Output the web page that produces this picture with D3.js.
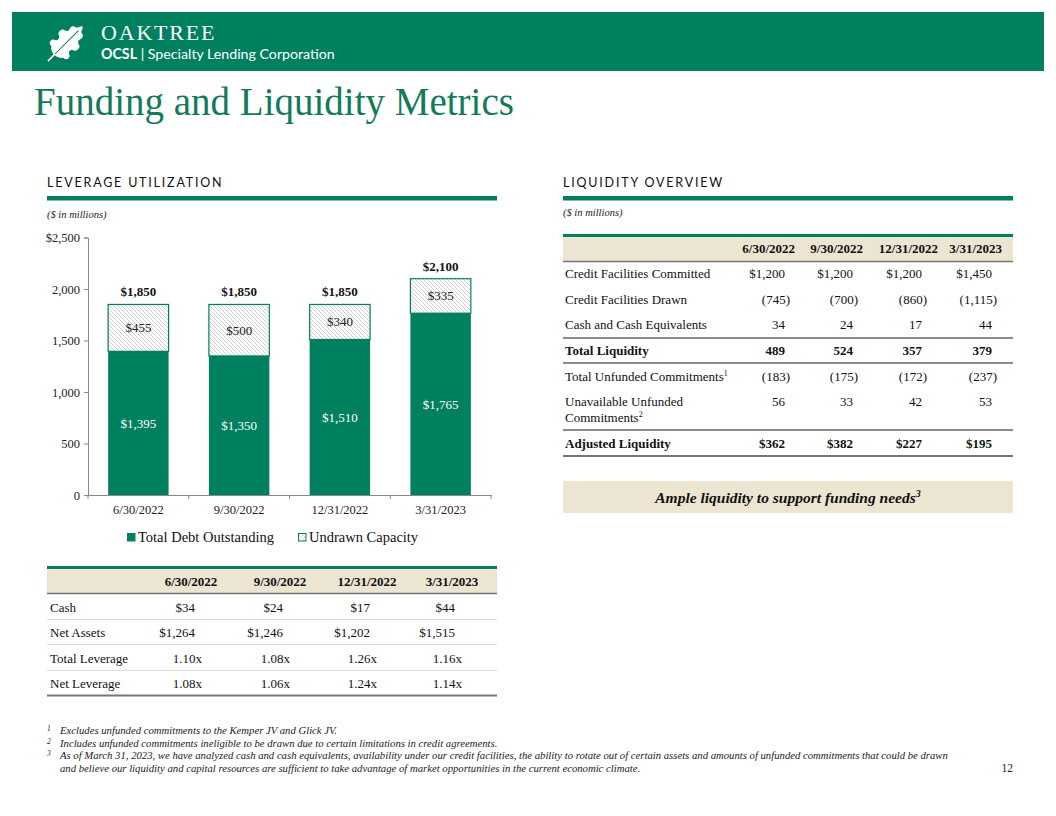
<!DOCTYPE html>
<html>
<head>
<meta charset="utf-8">
<script src="https://cdn.jsdelivr.net/npm/d3@7"></script>
<style>
  body { margin: 0; background: #fff; }
  svg text { font-family: 'Liberation Serif', 'Times New Roman', serif; }
  .sans { font-family: 'Lato', 'Open Sans', sans-serif !important; }
</style>
</head>
<body>
<div id="slide"></div>
<script>
const dates = ['6/30/2022', '9/30/2022', '12/31/2022', '3/31/2023'];
const debt = [1395, 1350, 1510, 1765];
const undrawn = [455, 500, 340, 335];
const yTicks = [0, 500, 1000, 1500, 2000, 2500];
const legendLabels = ['Total Debt Outstanding', 'Undrawn Capacity'];

const cashRow = ['$34', '$24', '$17', '$44'];
const netAssetsRow = ['$1,264', '$1,246', '$1,202', '$1,515'];
const totalLevRow = ['1.10x', '1.08x', '1.26x', '1.16x'];
const netLevRow = ['1.08x', '1.06x', '1.24x', '1.14x'];

const committed = [1200, 1200, 1200, 1450];
const drawn = [-745, -700, -860, -1115];
const cashEquiv = [34, 24, 17, 44];
const totalLiquidity = [489, 524, 357, 379];
const unfunded = [-183, -175, -172, -237];
const unavailable = [56, 33, 42, 53];
const adjusted = [362, 382, 227, 195];

const footnotes = [
  'Excludes unfunded commitments to the Kemper JV and Glick JV.',
  'Includes unfunded commitments ineligible to be drawn due to certain limitations in credit agreements.',
  'As of March 31, 2023, we have analyzed cash and cash equivalents, availability under our credit facilities, the ability to rotate out of certain assets and amounts of unfunded commitments that could be drawn',
  'and believe our liquidity and capital resources are sufficient to take advantage of market opportunities in the current economic climate.'
];

const green = '#00805e';
const beige = '#ece5d2';
const W = 1056, H = 816;

const svg = d3.select('#slide').append('svg').attr('width', W).attr('height', H);

const defs = svg.append('defs');
const pat = defs.append('pattern').attr('id', 'hatch')
  .attr('patternUnits', 'userSpaceOnUse').attr('width', 4).attr('height', 4);
pat.append('rect').attr('width', 4).attr('height', 4).attr('fill', '#fff');
pat.append('path').attr('d', 'M-1,-1 L5,5 M-1,3 L1,5 M3,-1 L5,1')
  .attr('stroke', '#c4c4c4').attr('stroke-width', 0.8);

// header band
svg.append('rect').attr('x', 12).attr('y', 12).attr('width', 1032).attr('height', 59).attr('fill', green);
const leaf = svg.append('g').attr('transform', 'translate(67,42) rotate(45)');
leaf.append('path')
  .attr('d', 'M0,18 Q-6,18 -8,14 Q-14,14 -12,8 Q-6,6 -9,2 Q-15,0 -12,-6 Q-7,-7 -7,-10 Q-10,-16 -3,-17 Q-1,-22 0,-22 Q1,-22 3,-17 Q10,-16 7,-10 Q7,-7 12,-6 Q15,0 9,2 Q6,6 12,8 Q14,14 8,14 Q6,18 0,18 Z')
  .attr('fill', '#fff');
leaf.append('path').attr('d', 'M0,14 L0,27').attr('stroke', '#fff').attr('stroke-width', 1.6);
leaf.append('path').attr('d', 'M0,17 L0,-16').attr('stroke', green).attr('stroke-width', 1);
svg.append('text').attr('x', 101).attr('y', 40).attr('fill', '#fff')
  .attr('font-size', 22).attr('letter-spacing', 1.8).text('OAKTREE');
const sub = svg.append('text').attr('x', 101).attr('y', 59).attr('fill', '#fff')
  .attr('class', 'sans').attr('font-size', 14.2);
sub.append('tspan').attr('font-weight', 'bold').text('OCSL');
sub.append('tspan').text(' | Specialty Lending Corporation');

svg.append('text').attr('x', 34).attr('y', 115).attr('fill', '#137a5a')
  .attr('font-size', 39).text('Funding and Liquidity Metrics');

// section heads
[[47, 'LEVERAGE UTILIZATION'], [563, 'LIQUIDITY OVERVIEW']].forEach(([x, t]) => {
  svg.append('text').attr('x', x).attr('y', 187).attr('class', 'sans')
    .attr('font-size', 12.5).attr('letter-spacing', 1.8).attr('fill', '#111').text(t);
  svg.append('rect').attr('x', x).attr('y', 196).attr('width', 450).attr('height', 4.5).attr('fill', green);
});
svg.append('text').attr('x', 47).attr('y', 218).attr('font-size', 10.5)
  .attr('font-style', 'italic').attr('fill', '#222').text('($ in millions)');
svg.append('text').attr('x', 563).attr('y', 216).attr('font-size', 10.5)
  .attr('font-style', 'italic').attr('fill', '#222').text('($ in millions)');

// chart
const x = d3.scaleBand().domain(dates).range([88, 491]).paddingInner(0.4).paddingOuter(0.2);
const y = d3.scaleLinear().domain([0, 2500]).range([495, 237.5]);

const yAxis = svg.append('g').attr('transform', 'translate(88,0)')
  .call(d3.axisLeft(y).tickValues(yTicks).tickSize(4).tickPadding(4)
    .tickFormat(d => d === 2500 ? '$2,500' : d3.format(',')(d)));
yAxis.select('.domain').attr('stroke', '#888');
yAxis.selectAll('.tick line').attr('stroke', '#888');
yAxis.selectAll('text').attr('font-size', 12.5).attr('fill', '#222')
  .attr('font-family', 'Liberation Serif, serif');

const xAxis = svg.append('g').attr('transform', 'translate(0,495)')
  .call(d3.axisBottom(x).tickSize(0).tickPadding(10));
xAxis.select('.domain').attr('stroke', '#888');
xAxis.selectAll('text').attr('font-size', 12.5).attr('fill', '#222')
  .attr('font-family', 'Liberation Serif, serif');
xAxis.selectAll('.bound').data(d3.range(dates.length + 1)).enter().append('line')
  .attr('x1', i => 88 + i * x.step()).attr('x2', i => 88 + i * x.step())
  .attr('y1', 0).attr('y2', 4).attr('stroke', '#888');

const bars = svg.append('g').selectAll('g').data(dates).enter().append('g');
bars.append('rect')
  .attr('x', d => x(d)).attr('width', x.bandwidth())
  .attr('y', (d, i) => y(debt[i] + undrawn[i]))
  .attr('height', (d, i) => y(debt[i]) - y(debt[i] + undrawn[i]))
  .attr('fill', 'url(#hatch)').attr('stroke', green).attr('stroke-width', 1.2);
bars.append('rect')
  .attr('x', d => x(d)).attr('width', x.bandwidth())
  .attr('y', (d, i) => y(debt[i]))
  .attr('height', (d, i) => y(0) - y(debt[i]))
  .attr('fill', green);
bars.append('text')
  .attr('x', d => x(d) + x.bandwidth() / 2)
  .attr('y', (d, i) => (y(debt[i]) + y(0)) / 2 + 4.5)
  .attr('text-anchor', 'middle').attr('font-size', 13).attr('fill', '#fff')
  .text((d, i) => '$' + d3.format(',')(debt[i]));
bars.append('text')
  .attr('x', d => x(d) + x.bandwidth() / 2)
  .attr('y', (d, i) => (y(debt[i]) + y(debt[i] + undrawn[i])) / 2 + 4.5)
  .attr('text-anchor', 'middle').attr('font-size', 13).attr('fill', '#222')
  .text((d, i) => '$' + d3.format(',')(undrawn[i]));
bars.append('text')
  .attr('x', d => x(d) + x.bandwidth() / 2)
  .attr('y', (d, i) => y(debt[i] + undrawn[i]) - 8)
  .attr('text-anchor', 'middle').attr('font-size', 13).attr('font-weight', 'bold').attr('fill', '#111')
  .text((d, i) => '$' + d3.format(',')(debt[i] + undrawn[i]));

// legend
const legendX = [127, 298];
legendLabels.forEach((t, i) => {
  svg.append('rect').attr('x', legendX[i] + 0.5).attr('y', 533.5).attr('width', 7.5).attr('height', 7.5)
    .attr('fill', i === 0 ? green : 'url(#hatch)').attr('stroke', green).attr('stroke-width', 1);
  svg.append('text').attr('x', legendX[i] + 11).attr('y', 542).attr('font-size', 14.5)
    .attr('fill', '#111').text(t);
});

// left table
svg.append('rect').attr('x', 47).attr('y', 566).attr('width', 450).attr('height', 27).attr('fill', beige);
svg.append('rect').attr('x', 47).attr('y', 566).attr('width', 450).attr('height', 3).attr('fill', green);
svg.append('line').attr('x1', 47).attr('x2', 497).attr('y1', 593.5).attr('y2', 593.5)
  .attr('stroke', '#777').attr('stroke-width', 1.5);
const leftCenters = [191, 280, 367, 452];
dates.forEach((d, i) => {
  svg.append('text').attr('x', leftCenters[i]).attr('y', 586).attr('text-anchor', 'middle')
    .attr('font-size', 13).attr('font-weight', 'bold').attr('fill', '#111').text(d);
});
const leftRows = [
  ['Cash', cashRow, 612, 0],
  ['Net Assets', netAssetsRow, 637, 0],
  ['Total Leverage', totalLevRow, 663, 7],
  ['Net Leverage', netLevRow, 688, 7]
];
const leftRight = [195, 283, 370, 455];
leftRows.forEach(([label, vals, yy, off], r) => {
  svg.append('text').attr('x', 50).attr('y', yy).attr('font-size', 13).attr('fill', '#111').text(label);
  vals.forEach((v, i) => {
    svg.append('text').attr('x', leftRight[i] + off).attr('y', yy).attr('text-anchor', 'end')
      .attr('font-size', 13).attr('fill', '#111').text(v);
  });
  if (r < 3) {
    svg.append('line').attr('x1', 47).attr('x2', 497).attr('y1', yy + 7.5).attr('y2', yy + 7.5)
      .attr('stroke', '#ddd').attr('stroke-width', 1);
  }
});
svg.append('line').attr('x1', 47).attr('x2', 497).attr('y1', 695.5).attr('y2', 695.5)
  .attr('stroke', '#777').attr('stroke-width', 2);

// right table
svg.append('rect').attr('x', 563).attr('y', 234).attr('width', 450).attr('height', 27).attr('fill', beige);
svg.append('rect').attr('x', 563).attr('y', 234).attr('width', 450).attr('height', 3).attr('fill', green);
svg.append('line').attr('x1', 563).attr('x2', 1013).attr('y1', 261.5).attr('y2', 261.5)
  .attr('stroke', '#777').attr('stroke-width', 1.5);
const headRight = [795, 863, 938, 1002];
dates.forEach((d, i) => {
  svg.append('text').attr('x', headRight[i]).attr('y', 253).attr('text-anchor', 'end')
    .attr('font-size', 13).attr('font-weight', 'bold').attr('fill', '#111').text(d);
});
const valRight = [785, 853, 922, 992];
const fmt = (v, dollar) => {
  const s = d3.format(',')(Math.abs(v));
  if (v < 0) return '(' + s + ')';
  return (dollar ? '$' : '') + s;
};
const rightRows = [
  ['Credit Facilities Committed', committed, 278, false, true],
  ['Credit Facilities Drawn', drawn, 304, false, false],
  ['Cash and Cash Equivalents', cashEquiv, 329, false, false],
  ['Total Liquidity', totalLiquidity, 355, true, false],
  ['Total Unfunded Commitments', unfunded, 381, false, false, '1'],
  ['Unavailable Unfunded', unavailable, 406, false, false],
  ['Adjusted Liquidity', adjusted, 448, true, true]
];
rightRows.forEach(([label, vals, yy, bold, dollar, sup]) => {
  const t = svg.append('text').attr('x', 565).attr('y', yy).attr('font-size', 13)
    .attr('font-weight', bold ? 'bold' : 'normal').attr('fill', '#111').text(label);
  if (sup) t.append('tspan').attr('font-size', 8).attr('dy', -5).text(sup);
  vals.forEach((v, i) => {
    svg.append('text').attr('x', valRight[i] + (v < 0 ? 5 : 0)).attr('y', yy)
      .attr('text-anchor', 'end').attr('font-size', 13)
      .attr('font-weight', bold ? 'bold' : 'normal').attr('fill', '#111').text(fmt(v, dollar));
  });
});
const c2 = svg.append('text').attr('x', 565).attr('y', 422).attr('font-size', 13).attr('fill', '#111').text('Commitments');
c2.append('tspan').attr('font-size', 8).attr('dy', -5).text('2');
[338, 363, 430].forEach(yy => {
  svg.append('line').attr('x1', 563).attr('x2', 1013).attr('y1', yy).attr('y2', yy)
    .attr('stroke', '#666').attr('stroke-width', 1.3);
});
svg.append('line').attr('x1', 563).attr('x2', 1013).attr('y1', 456).attr('y2', 456)
  .attr('stroke', '#777').attr('stroke-width', 2);

svg.append('rect').attr('x', 563).attr('y', 481).attr('width', 450).attr('height', 32).attr('fill', beige);
const amp = svg.append('text').attr('x', 788).attr('y', 503).attr('text-anchor', 'middle')
  .attr('font-size', 15.5).attr('font-weight', 'bold').attr('font-style', 'italic').attr('fill', '#111')
  .text('Ample liquidity to support funding needs');
amp.append('tspan').attr('font-size', 10).attr('dy', -6).text('3');

// footnotes
const fnY = [734, 746.5, 759, 771.5];
const fnNum = ['1', '2', '3', ''];
footnotes.forEach((t, i) => {
  if (fnNum[i]) svg.append('text').attr('x', 47).attr('y', fnY[i] - 3).attr('font-size', 7.5)
    .attr('font-style', 'italic').attr('fill', '#222').text(fnNum[i]);
  svg.append('text').attr('x', 60).attr('y', fnY[i]).attr('font-size', 10.7)
    .attr('font-style', 'italic').attr('fill', '#222').text(t);
});
svg.append('text').attr('x', 1013).attr('y', 772).attr('text-anchor', 'end')
  .attr('font-size', 11.5).attr('fill', '#222').text('12');
</script>
</body>
</html>
